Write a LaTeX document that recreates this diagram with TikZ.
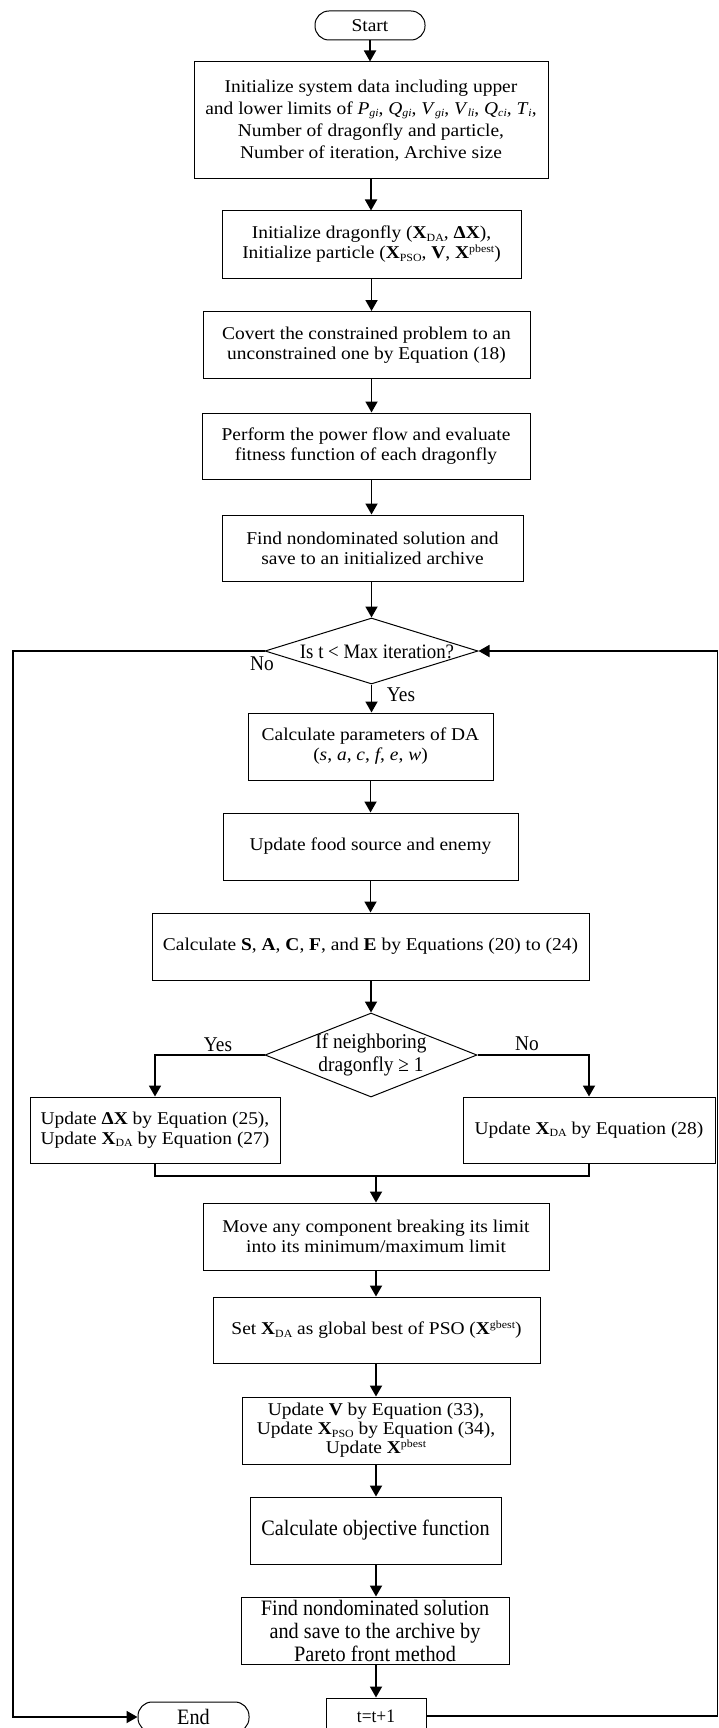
\documentclass[tikz,border=0pt]{standalone}
\usepackage{fontspec}
\setmainfont{Liberation Serif}[FakeStretch=1.08]
\newfontfamily\condfont{Liberation Serif}[FakeStretch=0.92]
\usetikzlibrary{arrows.meta,shapes.geometric,calc}
\newcommand\sbs[1]{\raisebox{-0.3ex}{\fontsize{11}{11}\selectfont #1}}
\newcommand\sps[1]{\raisebox{0.75ex}{\fontsize{11}{11}\selectfont #1}}
\newcommand\isub[2]{\textit{#1}\sbs{\textit{#2}}}
\newcommand\bX{\textbf{X}}
\begin{document}
\begin{tikzpicture}[x=1pt,y=-1pt,
  every node/.style={font=\fontsize{18}{20}\selectfont},
  box/.style={draw, line width=1pt, align=center, inner sep=0pt},
  cbox/.style={box, font=\condfont\fontsize{22}{23}\selectfont},
  term/.style={draw, line width=1pt, rounded corners=14pt, inner sep=0pt},
  dec/.style={draw, diamond, line width=1pt, inner sep=0pt},
  arr/.style={line width=1.8pt, -{Triangle[length=11pt,width=12pt]}},
  ln/.style={line width=1.8pt},
  lbl/.style={inner sep=0pt, align=center, font=\condfont\fontsize{21}{23}\selectfont}
]
\path[use as bounding box] (0,0) rectangle (719,1728);

\node[term, minimum width=110pt, minimum height=29pt] (start) at (370,25.5) {Start};
\node[box, minimum width=354pt, minimum height=117pt, font=\fontsize{18}{22}\selectfont] (b1) at (371,120.5)
  {Initialize system data including upper\\ and lower limits of \isub{P}{gi}, \isub{Q}{gi}, \isub{V}{gi}, \isub{V}{li}, \isub{Q}{ci}, \isub{T}{i},\\ Number of dragonfly and particle,\\ Number of iteration, Archive size};
\node[box, minimum width=299pt, minimum height=67pt] (b2) at (371.5,244.5)
  {Initialize dragonfly (\bX\sbs{DA}, \textbf{ΔX}),\\ Initialize particle (\bX\sbs{PSO}, \textbf{V}, \bX\sps{pbest})};
\node[box, minimum width=327pt, minimum height=67pt] (b3) at (366.5,345)
  {Covert the constrained problem to an\\ unconstrained one by Equation (18)};
\node[box, minimum width=328pt, minimum height=66pt] (b4) at (366,446)
  {Perform the power flow and evaluate\\ fitness function of each dragonfly};
\node[box, minimum width=301pt, minimum height=66pt] (b5) at (372.5,548)
  {Find nondominated solution and\\ save to an initialized archive};
\node[dec, minimum width=213pt, minimum height=66pt] (d1) at (371.5,651) {};
\node[lbl, font=\condfont\fontsize{20.5}{23}\selectfont] (d1t) at (377,652) {Is t < Max iteration?};
\node[box, minimum width=245pt, minimum height=67pt] (da) at (370.5,746.5)
  {Calculate parameters of DA\\ (\textit{s}, \textit{a}, \textit{c}, \textit{f}, \textit{e}, \textit{w})};
\node[box, minimum width=295pt, minimum height=67pt] (food) at (370.5,846.5)
  {Update food source and enemy};
\node[box, minimum width=437pt, minimum height=67pt] (cs) at (370.5,946.5)
  {Calculate \textbf{S}, \textbf{A}, \textbf{C}, \textbf{F}, and \textbf{E} by Equations (20) to (24)};
\node[dec, minimum width=212pt, minimum height=84pt] (d2) at (371,1055) {};
\node[lbl] (d2t) at (d2) {If neighboring\\ dragonfly ≥ 1};
\node[box, minimum width=250pt, minimum height=66pt] (L) at (155,1130)
  {Update \textbf{ΔX} by Equation (25),\\ Update \bX\sbs{DA} by Equation (27)};
\node[box, minimum width=252pt, minimum height=66pt] (R) at (589,1130)
  {Update \bX\sbs{DA} by Equation (28)};
\node[box, minimum width=346pt, minimum height=67pt] (mv) at (376,1236.5)
  {Move any component breaking its limit\\ into its minimum/maximum limit};
\node[box, minimum width=327pt, minimum height=66pt] (sx) at (376.5,1330)
  {Set \bX\sbs{DA} as global best of PSO (\bX\sps{gbest})};
\node[box, minimum width=268pt, minimum height=67pt, font=\fontsize{18}{19}\selectfont] (uv) at (376,1430.5)
  {Update \textbf{V} by Equation (33),\\ Update \bX\sbs{PSO} by Equation (34),\\ Update \bX\sps{pbest}};
\node[cbox, minimum width=251pt, minimum height=67pt] (obj) at (375.5,1530.5)
  {Calculate objective function};
\node[cbox, minimum width=268pt, minimum height=67pt] (fd) at (375,1630.5)
  {Find nondominated solution\\ and save to the archive by\\ Pareto front method};
\node[box, font=\condfont\fontsize{19}{22}\selectfont, minimum width=100pt, minimum height=36pt] (tb) at (376,1716) {t=t+1};
\node[term, font=\condfont\fontsize{22}{23}\selectfont, minimum width=111pt, minimum height=30pt] (en) at (193.5,1717) {End};

\node[lbl] (no1) at (262,664) {No};
\node[lbl] (yes1) at (401,695) {Yes};
\node[lbl] (yes2) at (218,1045) {Yes};
\node[lbl] (no2) at (527,1044) {No};

\coordinate (lx) at (12.7,0);
\coordinate (rx) at (717.5,0);
\coordinate (m) at (376,1176);

\draw[arr] (start.south) -- (start.south |- b1.north);
\draw[arr] (b1.south) -- (b1.south |- b2.north);
\draw[arr] (b2.south) -- (b2.south |- b3.north);
\draw[arr] (b2.south |- b3.south) -- (b2.south |- b4.north);
\draw[arr] (b2.south |- b4.south) -- (b2.south |- b5.north);
\draw[arr] (d1.north |- b5.south) -- (d1.north);
\draw[arr] (d1.south) -- (d1.south |- da.north);
\draw[arr] (da.south) -- (da.south |- food.north);
\draw[arr] (food.south) -- (food.south |- cs.north);
\draw[arr] (d2.north |- cs.south) -- (d2.north);
\draw[arr] (d2.west) -| (L.north);
\draw[arr] (d2.east) -| (R.north);
\draw[ln] (L.south) |- (m) -| (R.south);
\draw[arr] (m) -- (m |- mv.north);
\draw[arr] (mv.south) -- (mv.south |- sx.north);
\draw[arr] (mv.south |- sx.south) -- (mv.south |- uv.north);
\draw[arr] (mv.south |- uv.south) -- (mv.south |- obj.north);
\draw[arr] (mv.south |- obj.south) -- (mv.south |- fd.north);
\draw[arr] (mv.south |- fd.south) -- (mv.south |- tb.north);
\draw[arr] (d1.west) -- (d1.west -| lx) |- (en.west);
\draw[arr] (tb.east) -- (tb.east -| rx) -- (rx |- d1.east) -- (d1.east);
\end{tikzpicture}
\end{document}
